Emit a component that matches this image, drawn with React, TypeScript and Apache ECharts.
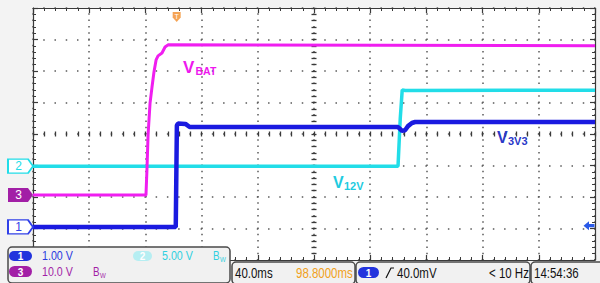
import React, { useEffect, useRef } from "react";
import * as echarts from "echarts";

// ---- Data (time in ms, amplitude in screen divisions) ----
const timeRangeMs = [-200, 200];
const msPerDiv = 40;
const divRange = [-4, 4];

const vbatPts: [number, number][] = [
  [-200, -1.94], [-119.6, -1.94], [-118.9, -1.14], [-118.1, -0.03], [-116.7, 0.98],
  [-115.3, 1.49], [-113.9, 1.97], [-112.4, 2.35], [-111.0, 2.48], [-108.2, 2.57],
  [-106.0, 2.76], [-103.9, 2.83], [200, 2.8],
];
const v12vPts: [number, number][] = [
  [-200, -1.02], [59.8, -1.02], [61.4, 0.5], [62.8, 1.4], [65, 1.38], [200, 1.39],
];
const v3v3Pts: [number, number][] = [
  [-200, -2.95], [-98.4, -2.95], [-97.6, 0.27], [-96.8, 0.33], [-91.5, 0.32],
  [-88.5, 0.22], [59.8, 0.22], [61.2, 0.16], [62.6, 0.1], [64.8, 0.12],
  [66.9, 0.25], [69.7, 0.35], [72, 0.38], [200, 0.38],
];
const groundLevels = [-2.95, -1.02, -1.94]; // ch1, ch2, ch3
const channelIds = ["1", "2", "3"];
const triggerPosMs = -98.8;
const triggerLevelDiv = 0.04; // 40 mV at 1 V/div above ch1 ground

const chScaleTexts = ["1.00 V", "5.00 V", "10.0 V"];
const timebaseText = "40.0ms";
const delayText = "98.8000ms";
const trigLevelText = "40.0mV";
const freqText = "< 10 Hz";
const clockText = "14:54:36";

const C1 = "#1a1ae0";
const C2 = "#22dde8";
const C3 = "#f01ef0";
const C3TAG = "#a21fa6";
const SANS = "'Liberation Sans', Arial, sans-serif";

function borderAxis(pos: string, split: boolean, dash: number[]) {
  const isX = pos === "top" || pos === "bottom";
  return {
    type: "value",
    position: pos,
    min: isX ? timeRangeMs[0] : divRange[0],
    max: isX ? timeRangeMs[1] : divRange[1],
    interval: isX ? msPerDiv : 1,
    axisLine: { show: true, onZero: false, lineStyle: { color: "#3a3a3a", width: 1.2 } },
    axisTick: { show: true, inside: true, length: 5, lineStyle: { color: "#3a3a3a", width: 1.2 } },
    minorTick: { show: true, splitNumber: 5, length: 3, lineStyle: { color: "#3a3a3a", width: 1 } },
    axisLabel: { show: false },
    splitLine: {
      show: split,
      lineStyle: { color: "#5a5a5a", width: 1.5, type: dash, dashOffset: 0.75 },
    },
    minorSplitLine: { show: false },
  };
}
function centerAxis(pos: string, inside: boolean) {
  const isX = pos === "bottom";
  return {
    type: "value",
    position: pos,
    min: isX ? timeRangeMs[0] : divRange[0],
    max: isX ? timeRangeMs[1] : divRange[1],
    interval: isX ? msPerDiv : 1,
    axisLine: { show: false, onZero: true },
    axisTick: { show: true, inside, length: 2.5, lineStyle: { color: "#3a3a3a", width: 1.3 } },
    minorTick: { show: true, splitNumber: 5, length: 2.5, lineStyle: { color: "#3a3a3a", width: 1.3 } },
    axisLabel: { show: false },
    splitLine: { show: false },
  };
}

const tagPath = "path://M0,0 L20,0 L25,7 L20,14 L0,14 Z";

export default function App() {
  const ref = useRef<HTMLDivElement>(null);
  useEffect(() => {
    if (!ref.current) return;
    const chart = echarts.init(ref.current, null, { renderer: "svg" });
    const series: any[] = [
      { name: "V12V", data: v12vPts, color: C2, width: 3.5, idx: 1 },
      { name: "VBAT", data: vbatPts, color: C3, width: 3, idx: 2 },
      { name: "V3V3", data: v3v3Pts, color: C1, width: 4.5, idx: 0 },
    ].map((s, i) => {
      const id = channelIds[s.idx];
      const filled = id === "3";
      const tagColor = id === "3" ? C3TAG : id === "1" ? "#3040e8" : C2;
      const marks: any[] = [
        {
          coord: [timeRangeMs[0], groundLevels[s.idx]],
          symbol: tagPath,
          symbolSize: [25, 14],
          symbolOffset: [-12.5, 0],
          itemStyle: { color: filled ? tagColor : "#ffffff", borderColor: tagColor, borderWidth: filled ? 0 : 1.5 },
          label: {
            show: true, position: "inside", formatter: id, offset: [-2, 0],
            color: filled ? "#ffffff" : tagColor, fontSize: 12, fontFamily: SANS,
          },
        },
      ];
      if (id === "1") {
        marks.push({
          coord: [triggerPosMs, divRange[1]],
          symbol: "path://M0,0 L10,0 L10,6 L5,11 L0,6 Z",
          symbolSize: [8, 10],
          symbolOffset: [1.5, 9],
          itemStyle: { color: "#f5a455" },
          label: { show: true, position: "inside", formatter: "T", color: "#ffffff", fontSize: 7, offset: [0, -1] },
        });
        marks.push({
          coord: [timeRangeMs[1], groundLevels[0] + triggerLevelDiv],
          symbol: "path://M0,4 L5,0 L5,2.5 L10,2.5 L10,5.5 L5,5.5 L5,8 Z",
          symbolSize: [11, 9],
          symbolOffset: [-6, 0],
          itemStyle: { color: "#2a5ae8" },
          label: { show: false },
        });
      }
      return {
        type: "line",
        name: s.name,
        xAxisIndex: 0,
        yAxisIndex: 0,
        data: s.data,
        showSymbol: false,
        symbol: "none",
        z: 3 + i,
        lineStyle: { color: s.color, width: s.width },
        markPoint: { data: marks, silent: true, z: 10 },
      };
    });

    // narrow text = Liberation Sans squeezed horizontally
    const txt = (text: string, x: number, y: number, fill: string, fontSize: number, narrow = true, fontWeight: any = "normal") => ({
      type: "text", x, y, z: 100, scaleX: narrow ? 0.82 : 1,
      style: { text, fill, fontSize, fontFamily: SANS, fontWeight, verticalAlign: "middle", align: "left" },
    });
    const pill = (x: number, y: number, w: number, h: number, fill: string, label: string) => [
      { type: "rect", z: 100, shape: { x, y, width: w, height: h, r: h / 2 }, style: { fill } },
      {
        type: "text", z: 101, x: x + w / 2, y: y + h / 2 + 0.5,
        style: { text: label, fill: "#ffffff", fontSize: 10, fontFamily: SANS, fontWeight: "bold", align: "center", verticalAlign: "middle" },
      },
    ];
    const box = (x: number, y: number, w: number, h: number) => ({
      type: "rect", z: 99, shape: { x, y, width: w, height: h, r: 4 },
      style: { fill: "#f1f1f1", stroke: "#4a4a4a", lineWidth: 1.5 },
    });

    const graphic: any[] = [
      // trace labels
      txt("V", 183, 67.5, "#ee18ee", 17, false, "bold"),
      txt("BAT", 195.5, 70.5, "#ee18ee", 10.5, false, "bold"),
      txt("V", 497, 137, "#2a38c8", 16, false, "bold"),
      txt("3V3", 508, 141, "#2a38c8", 11, false, "bold"),
      txt("V", 333, 182, "#1ecbe0", 16, false, "bold"),
      txt("12V", 344, 186, "#1ecbe0", 11, false, "bold"),
      // channel info box
      box(8, 247, 222, 36),
      ...pill(9, 251, 23, 10, "#2233dd", "1"),
      txt(chScaleTexts[0], 42, 256, "#2a3ae0", 13),
      ...pill(133, 251, 19, 10, "#b6eef2", "2"),
      txt(chScaleTexts[1], 162, 256, "#2fd0e0", 13),
      txt("B", 213, 256, "#2fd0e0", 12),
      txt("W", 220, 259, "#2fd0e0", 7.5),
      ...pill(9, 266, 23, 11, C3TAG, "3"),
      txt(chScaleTexts[2], 42, 272, C3TAG, 13),
      txt("B", 93, 272, C3TAG, 12),
      txt("W", 100, 275, C3TAG, 7.5),
      // timebase box
      box(232, 262, 123, 22),
      txt(timebaseText, 235, 273, "#111111", 14),
      txt(delayText, 296, 273, "#f0a020", 14),
      // trigger box
      box(356, 262, 174, 22),
      ...pill(358, 267, 21, 11, "#2233dd", "1"),
      {
        type: "polyline", z: 100,
        shape: { points: [[386, 278], [391, 268], [394, 268]] },
        style: { stroke: "#111111", lineWidth: 1.2, fill: null },
      },
      txt(trigLevelText, 397, 273, "#111111", 14),
      txt(freqText, 489, 273, "#111111", 14),
      // clock box
      box(531, 262, 72, 22),
      txt(clockText, 534, 273, "#111111", 14),
    ];

    chart.setOption({
      animation: false,
      backgroundColor: "#f3f3f3",
      grid: { left: 33, top: 8, width: 562, height: 252, show: true, backgroundColor: "#ffffff", borderWidth: 0 },
      xAxis: [
        borderAxis("bottom", true, [1.5, 4.8]),
        borderAxis("top", false, [1.5, 4.8]),
        centerAxis("bottom", true),
        centerAxis("bottom", false),
      ],
      yAxis: [
        borderAxis("left", true, [1.5, 9.74]),
        borderAxis("right", false, [1.5, 9.74]),
        centerAxis("left", true),
        centerAxis("left", false),
      ],
      series,
      graphic,
    });
    return () => chart.dispose();
  }, []);
  return <div ref={ref} style={{ position: "fixed", left: 0, top: 0, width: 600, height: 283 }} />;
}
